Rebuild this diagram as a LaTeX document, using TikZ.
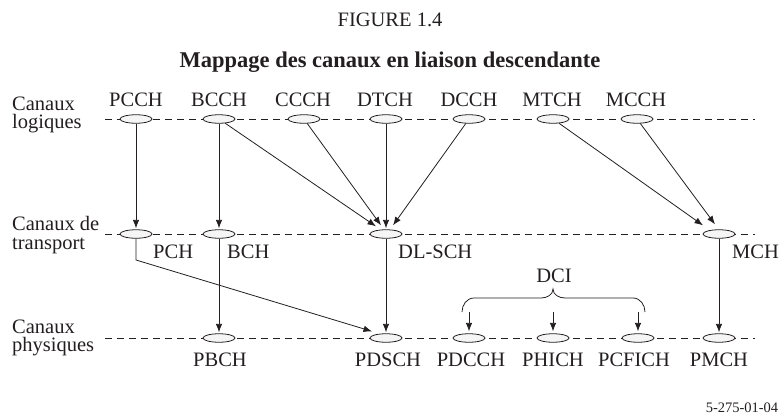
\documentclass[tikz,border=0pt]{standalone}
\usepackage{fontspec}
\setmainfont{Liberation Serif}
\usetikzlibrary{arrows.meta,calc,shapes.geometric}
\definecolor{ink}{HTML}{231F20}
\begin{document}
\begin{tikzpicture}[x=1pt,y=-1pt,
  ch/.style={ellipse, draw=ink, fill=gray!8, line width=0.8pt, minimum width=32pt, minimum height=8.5pt, inner sep=0pt},
  lbl/.style={font=\fontsize{20.5}{20.5}\selectfont, text=ink, inner sep=0pt},
  side/.style={font=\fontsize{20.5}{18.5}\selectfont, text=ink, inner sep=0pt, align=left, anchor=west},
  arr/.style={-{Latex[length=8.5pt,width=6.5pt]}, line width=0.8pt, draw=ink},
  plain/.style={line width=0.8pt, draw=ink},
  dline/.style={dash pattern=on 7pt off 5pt, line width=0.8pt, draw=ink}]
\useasboundingbox (0,0) rectangle (780,418);
% titles
\node[lbl] (fig) at (390,20) {FIGURE 1.4};
\node[lbl, font=\fontsize{22.5}{22.5}\selectfont\bfseries] (title) at (390,62) {Mappage des canaux en liaison descendante};
\node[lbl, font=\fontsize{14.5}{14.5}\selectfont] (ref) at (742,408) {5-275-01-04};
% side labels
\node[side] (sl) at (12,115) {Canaux\\logiques};
\node[side] (st) at (12,235) {Canaux de\\transport};
\node[side] (sp) at (12,338) {Canaux\\physiques};
% dashed rows
\coordinate (l1s) at (105,119); \coordinate (l1e) at (755,119);
\coordinate (l2s) at (105,234); \coordinate (l2e) at (755,234);
\coordinate (l3s) at (105,338); \coordinate (l3e) at (755,338);
\draw[dline] (l1s) -- (l1e);
\draw[dline] (l2s) -- (l2e);
\draw[dline] (l3s) -- (l3e);
% logical channels
\node[ch] (pcch) at (136,119) {};
\node[ch] (bcch) at (219,119) {};
\node[ch] (ccch) at (304,119) {};
\node[ch] (dtch) at (386,119) {};
\node[ch] (dcch) at (469,119) {};
\node[ch] (mtch) at (553,119) {};
\node[ch] (mcch) at (637,119) {};
\node[lbl, anchor=base] (tpcch) at (136,106) {PCCH};
\node[lbl, anchor=base] (tbcch) at (219,106) {BCCH};
\node[lbl, anchor=base] (tccch) at (303,106) {CCCH};
\node[lbl, anchor=base] (tdtch) at (385,106) {DTCH};
\node[lbl, anchor=base] (tdcch) at (469,106) {DCCH};
\node[lbl, anchor=base] (tmtch) at (552,106) {MTCH};
\node[lbl, anchor=base] (tmcch) at (636,106) {MCCH};
% transport channels
\node[ch] (pch) at (136,234) {};
\node[ch] (bch) at (219,234) {};
\node[ch] (dlsch) at (386,234) {};
\node[ch] (mch) at (719,234) {};
\node[lbl, anchor=base west] (tpch) at (153,258) {PCH};
\node[lbl, anchor=base west] (tbch) at (227,258) {BCH};
\node[lbl, anchor=base west] (tdlsch) at (398,258) {DL-SCH};
\node[lbl, anchor=base west] (tmch) at (732,258) {MCH};
% physical channels
\node[ch] (pbch) at (219,338) {};
\node[ch] (pdsch) at (386,338) {};
\node[ch] (pdcch) at (469,338) {};
\node[ch] (phich) at (553,338) {};
\node[ch] (pcfich) at (638,338) {};
\node[ch] (pmch) at (719,338) {};
\node[lbl, anchor=base] (tpbch) at (220,366) {PBCH};
\node[lbl, anchor=base] (tpdsch) at (388,366) {PDSCH};
\node[lbl, anchor=base] (tpdcch) at (471,366) {PDCCH};
\node[lbl, anchor=base] (tphich) at (553,366) {PHICH};
\node[lbl, anchor=base] (tpcfich) at (634,366) {PCFICH};
\node[lbl, anchor=base] (tpmch) at (719,366) {PMCH};
% logical -> transport
\draw[arr, shorten >=1pt] (pcch) -- (pch);
\draw[arr, shorten >=1pt] (bcch) -- (bch);
\draw[arr] (bcch) -- ($(dlsch.north)+(-10,-3)$);
\draw[arr] (ccch) -- ($(dlsch.north)+(-5,-4)$);
\draw[arr, shorten >=1pt] (dtch) -- (dlsch);
\draw[arr] (dcch) -- ($(dlsch.north)+(7,-4)$);
\draw[arr] (mtch) -- ($(mch.north)+(-16,-4)$);
\draw[arr] (mcch) -- ($(mch.north)+(-4,-5)$);
% transport -> physical
\coordinate (pchbend) at (136,260);
\draw[arr] (pch) -- (pchbend) -- ($(pdsch.north)+(-14,-2)$);
\draw[arr, shorten >=1pt] (bch) -- (pbch);
\draw[arr, shorten >=1pt] (dlsch) -- (pdsch);
\draw[arr, shorten >=1pt] (mch) -- (pmch);
% DCI brace
\node[lbl, anchor=base] (dci) at (554,282) {DCI};
\draw[plain] (462,312) to[out=90,in=180] (474,298) -- (541,298) to[out=0,in=-90] (553,289)
  to[out=-90,in=180] (565,298) -- (633,298) to[out=0,in=90] (645,312);
\coordinate (d1) at (469,312);
\coordinate (d2) at (553,312);
\coordinate (d3) at (638,312);
\draw[arr, shorten >=2pt] (d1) -- (pdcch);
\draw[arr, shorten >=2pt] (d2) -- (phich);
\draw[arr, shorten >=2pt] (d3) -- (pcfich);
\end{tikzpicture}
\end{document}
